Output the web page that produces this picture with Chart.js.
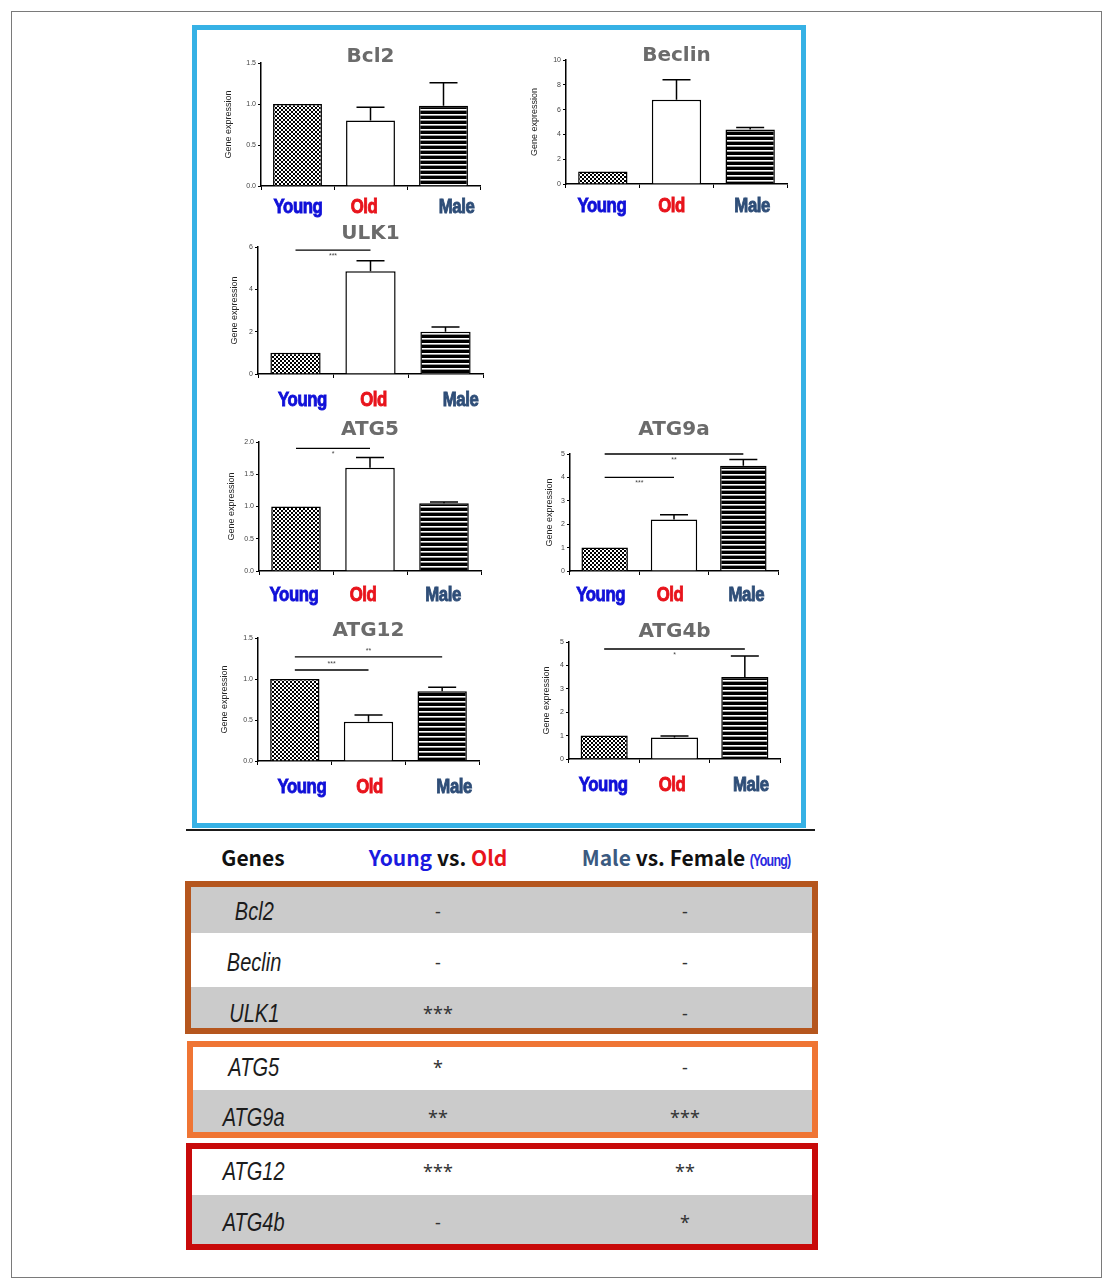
<!DOCTYPE html>
<html><head><meta charset="utf-8">
<script src="https://cdn.jsdelivr.net/npm/chart.js@4.4.1/dist/chart.umd.min.js"></script>
<style>
html,body{margin:0;padding:0;background:#fff;}
body{width:1107px;height:1279px;position:relative;overflow:hidden;font-family:'Noto Sans',sans-serif;}
.abs{position:absolute;box-sizing:content-box;}
canvas{position:absolute;}
.cell{position:absolute;text-align:center;white-space:nowrap;}
.sq{display:inline-block;transform-origin:center center;}
</style></head><body>
<script>
// ---------------- DATA ----------------
const categories = ['Young', 'Old', 'Male'];
const categoryColors = ['#1010d8', '#e8141c', '#2f4e78'];

const bcl2Values   = [1.00, 0.80, 0.98];
const bcl2Sem      = [0, 0.16, 0.28];
const beclinValues = [1.00, 6.80, 4.40];
const beclinSem    = [0, 1.60, 0.16];
const ulk1Values   = [1.00, 4.85, 2.00];
const ulk1Sem      = [0, 0.50, 0.22];
const atg5Values   = [1.00, 1.60, 1.05];
const atg5Sem      = [0, 0.16, 0.02];
const atg9aValues  = [1.00, 2.20, 4.50];
const atg9aSem     = [0, 0.20, 0.26];
const atg12Values  = [1.00, 0.48, 0.85];
const atg12Sem     = [0, 0.08, 0.05];
const atg4bValues  = [1.00, 0.92, 3.50];
const atg4bSem     = [0, 0.06, 0.90];

// significance brackets: [fromIndex, toIndex, yValue, label]
const ulk1Sig  = [[0, 1, 5.85, '***']];
const atg5Sig  = [[0, 1, 1.90, '*']];
const atg9aSig = [[0, 2, 5.00, '**'], [0, 1, 4.00, '***']];
const atg12Sig = [[0, 2, 1.27, '**'], [0, 1, 1.11, '***']];
const atg4bSig = [[0, 2, 4.70, '*']];

// summary table
const tableGenes   = ['Bcl2', 'Beclin', 'ULK1', 'ATG5', 'ATG9a', 'ATG12', 'ATG4b'];
const youngVsOld   = ['-', '-', '***', '*', '**', '***', '-'];
const maleVsFemale = ['-', '-', '-', '-', '***', '**', '*'];

// ---------------- LAYOUT ----------------
const panels = [
  {title:'Bcl2',   values:bcl2Values,   sem:bcl2Sem,   sig:[],       yMax:1.5, yStep:0.5, dec:1,
   axisX:261, axisRight:480, axisTop:63.3, axisBottom:186, titleY:57, yTitleX:229, labelDy:21, labelDx:[0.5,-6.5,13], starSide:[1]},
  {title:'Beclin', values:beclinValues, sem:beclinSem, sig:[],       yMax:10,  yStep:2,   dec:0,
   axisX:566, axisRight:786.5, axisTop:59.7, axisBottom:184.3, titleY:55.7, yTitleX:535, labelDy:22, labelDx:[-1,-5,2], starSide:[1]},
  {title:'ULK1',   values:ulk1Values,   sem:ulk1Sem,   sig:ulk1Sig,  yMax:6,   yStep:2,   dec:0,
   axisX:258, axisRight:483, axisTop:246.7, axisBottom:374.3, titleY:233.3, yTitleX:235, labelDy:26, labelDx:[7,3,15], starSide:[1]},
  {title:'ATG5',   values:atg5Values,   sem:atg5Sem,   sig:atg5Sig,  yMax:2,   yStep:0.5, dec:1,
   axisX:259, axisRight:481, axisTop:441.7, axisBottom:570.7, titleY:430, yTitleX:231.7, labelDy:24, labelDx:[-2,-7,-1], starSide:[1]},
  {title:'ATG9a',  values:atg9aValues,  sem:atg9aSem,  sig:atg9aSig, yMax:5,   yStep:1,   dec:0,
   axisX:570, axisRight:778, axisTop:454, axisBottom:570.7, titleY:430, yTitleX:550, labelDy:24, labelDx:[-4,-4,3], starSide:[1,1]},
  {title:'ATG12',  values:atg12Values,  sem:atg12Sem,  sig:atg12Sig, yMax:1.5, yStep:0.5, dec:1,
   axisX:258, axisRight:478.5, axisTop:638.3, axisBottom:760.7, titleY:630.7, yTitleX:225, labelDy:26, labelDx:[7,1,12], starSide:[-1,-1]},
  {title:'ATG4b',  values:atg4bValues,  sem:atg4bSem,  sig:atg4bSig, yMax:5,   yStep:1,   dec:0,
   axisX:569, axisRight:780, axisTop:641.7, axisBottom:759.3, titleY:631.7, yTitleX:546.7, labelDy:26, labelDx:[-1,-2.5,6], starSide:[1]}
];

// ---------------- STATIC FRAME ----------------
function addDiv(style, html) {
  const d = document.createElement('div');
  d.className = 'abs';
  d.setAttribute('style', style);
  if (html !== undefined) d.innerHTML = html;
  document.body.appendChild(d);
  return d;
}
addDiv('left:11px;top:11px;width:1089px;height:1265px;border:1px solid #7a7a7a;');
addDiv('left:192px;top:25px;width:604px;height:793px;border:5px solid #36b1e5;');
addDiv('left:186px;top:829px;width:629px;height:2px;background:#1a1a1a;');

// ---------------- PATTERNS ----------------
function makeCheck() {
  const t = document.createElement('canvas'); t.width = 4; t.height = 4;
  const c = t.getContext('2d');
  c.fillStyle = '#fff'; c.fillRect(0,0,4,4);
  c.fillStyle = '#000'; c.fillRect(0,0,2,2); c.fillRect(2,2,2,2);
  return t;
}
function makeStripe() {
  const t = document.createElement('canvas'); t.width = 4; t.height = 5;
  const c = t.getContext('2d');
  c.fillStyle = '#000'; c.fillRect(0,0,4,5);
  c.fillStyle = '#fff'; c.fillRect(0,3,4,1);
  c.fillStyle = '#9a9a9a'; c.fillRect(0,4,4,1);
  return t;
}
const checkTile = makeCheck();
const stripeTile = makeStripe();

// ---------------- CHARTS ----------------
const Y_W = 50, X_H = 40, PAD_R = 30, PAD_T = 20;

function makePanel(p) {
  const left = Math.round(p.axisX - Y_W);
  const titleTop = Math.round(p.titleY - (p.axisTop - p.titleY));
  const top = titleTop - PAD_T;
  const titleH = Math.round(p.axisTop) - titleTop;
  const w = Math.round(p.axisRight) - left + PAD_R;
  const h = Math.round(p.axisBottom) - top + X_H;
  const cv = document.createElement('canvas');
  cv.width = w; cv.height = h;
  cv.style.left = left + 'px'; cv.style.top = top + 'px';
  document.body.appendChild(cv);
  const ctx0 = cv.getContext('2d');
  const checkPat = ctx0.createPattern(checkTile, 'repeat');
  const stripePat = ctx0.createPattern(stripeTile, 'repeat');

  const overlay = {
    id: 'overlay',
    afterDatasetsDraw(chart) {
      const ctx = chart.ctx, ys = chart.scales.y, xs = chart.scales.x;
      const meta = chart.getDatasetMeta(0);
      const ds = chart.data.datasets[0];
      ctx.save();
      ctx.strokeStyle = '#000'; ctx.lineWidth = 1.5;
      meta.data.forEach((bar, i) => {
        const s = ds.sem[i];
        if (!s) return;
        const v = ds.data[i];
        const y0 = ys.getPixelForValue(v), y1 = ys.getPixelForValue(v + s);
        ctx.beginPath();
        ctx.moveTo(bar.x, y0); ctx.lineTo(bar.x, y1);
        ctx.moveTo(bar.x - 14, y1); ctx.lineTo(bar.x + 14, y1);
        ctx.stroke();
      });
      ds.sig.forEach((s, k) => {
        const xa = xs.getPixelForTick(s[0]), xb = xs.getPixelForTick(s[1]);
        const yy = ys.getPixelForValue(s[2]);
        ctx.strokeStyle = '#000'; ctx.lineWidth = 1.3;
        ctx.beginPath(); ctx.moveTo(xa, yy); ctx.lineTo(xb, yy); ctx.stroke();
        ctx.fillStyle = '#444';
        ctx.font = '7px "Liberation Sans", Arial, sans-serif';
        ctx.textAlign = 'center'; ctx.textBaseline = 'middle';
        const side = p.starSide[k] || 1;
        ctx.fillText(s[3], (xa + xb) / 2, yy + side * 6);
      });
      ctx.restore();
    },
    afterDraw(chart) {
      const ctx = chart.ctx, xs = chart.scales.x;
      ctx.save();
      ctx.font = 'bold 20px "Liberation Sans", Arial, sans-serif';
      try { ctx.letterSpacing = '-0.5px'; } catch (e) {}
      ctx.textAlign = 'center'; ctx.textBaseline = 'middle';
      categories.forEach((lab, i) => {
        const x = xs.getPixelForTick(i) + p.labelDx[i];
        const y = chart.chartArea.bottom + p.labelDy;
        ctx.save();
        ctx.translate(x, y);
        ctx.scale(0.84, 1.05);
        ctx.fillStyle = categoryColors[i];
        ctx.strokeStyle = categoryColors[i];
        ctx.lineWidth = 0.9;
        ctx.fillText(lab, 0, 0);
        ctx.strokeText(lab, 0, 0);
        ctx.restore();
      });
      ctx.restore();
    }
  };

  new Chart(cv, {
    type: 'bar',
    data: {
      labels: categories,
      datasets: [{
        data: p.values,
        sem: p.sem,
        sig: p.sig,
        backgroundColor: [checkPat, '#ffffff', stripePat],
        borderColor: '#000',
        borderWidth: 1.5,
        borderSkipped: 'bottom',
        barPercentage: 0.67,
        categoryPercentage: 1.0
      }]
    },
    options: {
      responsive: false,
      animation: false,
      devicePixelRatio: 1,
      layout: { padding: { left: 0, top: PAD_T, bottom: 0, right: PAD_R } },
      plugins: {
        legend: { display: false },
        tooltip: { enabled: false },
        title: {
          display: true, text: p.title, fullSize: false,
          color: '#6b6b6b',
          font: { family: '"DejaVu Sans", Verdana, sans-serif', size: 20, weight: 'bold', lineHeight: titleH + 'px' },
          padding: { top: 0, bottom: 0 }
        }
      },
      scales: {
        x: {
          offset: true,
          grid: { display: true, drawOnChartArea: false, drawTicks: true, tickLength: 4, color: '#000', lineWidth: 1 },
          border: { display: true, color: '#000', width: 1.5 },
          ticks: { display: false },
          afterFit(s) { s.height = X_H; }
        },
        y: {
          min: 0, max: p.yMax,
          grid: { display: true, drawOnChartArea: false, drawTicks: true, tickLength: 3, color: '#000', lineWidth: 1 },
          border: { display: true, color: '#000', width: 1.5 },
          ticks: {
            stepSize: p.yStep, padding: 2, color: '#444',
            font: { family: '"Liberation Sans", Arial, sans-serif', size: 7 },
            callback: (v) => Number(v).toFixed(p.dec)
          },
          title: {
            display: true, text: 'Gene expression', color: '#222',
            font: { family: '"Liberation Sans", Arial, sans-serif', size: 9, lineHeight: 1.2 },
            padding: { top: Math.max(0, p.yTitleX - left - 5.4), bottom: 0 }
          },
          afterFit(s) { s.width = Y_W; }
        }
      }
    },
    plugins: [overlay]
  });
}
panels.forEach(makePanel);

// ---------------- TABLE ----------------
addDiv('left:185px;top:881px;width:621px;height:141px;border:6px solid #b5561e;');
addDiv('left:191px;top:887px;width:621px;height:46px;background:#cbcbcb;');
addDiv('left:191px;top:987px;width:621px;height:41px;background:#cbcbcb;');
addDiv('left:187px;top:1041px;width:619px;height:85px;border:6px solid #ef7534;');
addDiv('left:193px;top:1090px;width:619px;height:42px;background:#cbcbcb;');
addDiv('left:186px;top:1143px;width:620px;height:95px;border:6px solid #c80a0a;');
addDiv('left:192px;top:1195px;width:620px;height:49px;background:#cbcbcb;');

const colX = [254, 438, 685];
const rowCenters = [911, 962, 1013, 1067, 1117, 1171, 1222];

const hdrFont = 'font-family:"Noto Sans CJK KR","Noto Sans",sans-serif;font-size:21px;font-weight:bold;';
function cell(cx, cy, w, style, html) {
  const d = document.createElement('div');
  d.className = 'cell';
  d.setAttribute('style', `left:${cx - w/2}px;top:${cy - 15}px;width:${w}px;height:30px;line-height:30px;` + style);
  d.innerHTML = html;
  document.body.appendChild(d);
}
cell(253, 857, 160, hdrFont + 'color:#111;', 'Genes');
cell(438, 857, 220, hdrFont + 'color:#111;', '<span style="color:#1a1ae0">Young</span> vs. <span style="color:#e8141c">Old</span>');
cell(686, 857, 300, hdrFont + 'color:#111;',
  '<span style="color:#3b5a80">Male</span> vs. Female <span class="sq" style="font-family:\'Liberation Sans\',sans-serif;font-size:16px;font-weight:bold;letter-spacing:-1px;color:#2a2ae0;transform:scaleX(0.78);margin-left:-6px;margin-right:-6px;">(Young)</span>');

tableGenes.forEach((g, i) => {
  const cy = rowCenters[i];
  cell(colX[0], cy, 160, 'font-family:"Liberation Sans",sans-serif;font-style:italic;font-size:25px;color:#1c1c1c;',
    '<span class="sq" style="transform:scaleX(0.8)">' + g + '</span>');
  cell(colX[1], cy, 120, 'font-family:"Noto Sans",sans-serif;font-size:18px;color:#333;', youngVsOld[i]);
  cell(colX[2], cy, 120, 'font-family:"Noto Sans",sans-serif;font-size:18px;color:#333;', maleVsFemale[i]);
});
</script>
</body></html>
